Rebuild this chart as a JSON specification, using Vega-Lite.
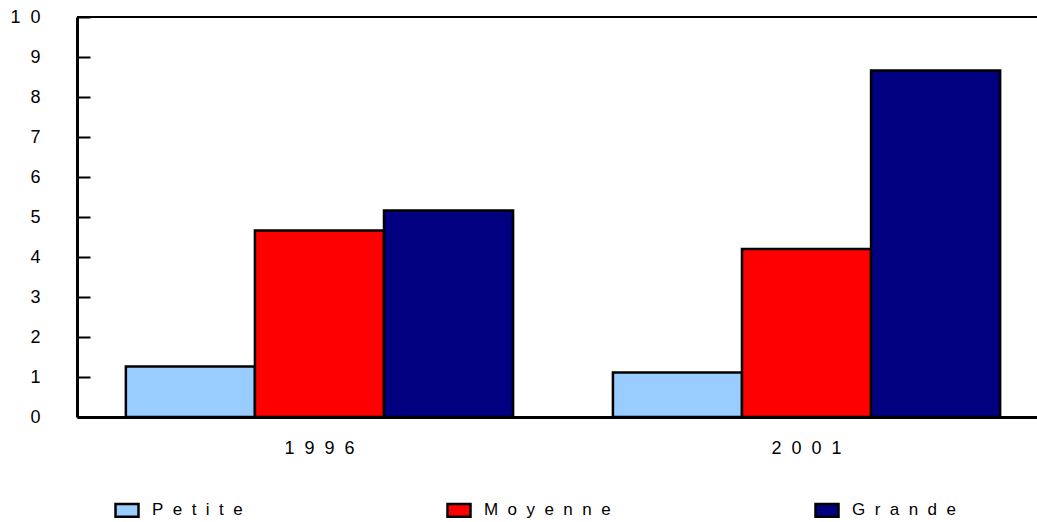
{
  "$schema": "https://vega.github.io/schema/vega-lite/v6.json",
  "autosize": "none",
  "width": 960,
  "height": 400,
  "padding": {"left": 77, "top": 17, "right": 0, "bottom": 105},
  "background": "white",
  "config": {
    "view": {"stroke": null},
    "font": "Liberation Sans",
    "axis": {"labelFont": "Liberation Sans", "labelColor": "black", "labelFontSize": 18, "grid": false, "title": null},
    "axisY": {
      "values": [0, 1, 2, 3, 4, 5, 6, 7, 8, 9, 10],
      "labelOverlap": false,
      "domainColor": "black", "domainWidth": 3,
      "tickColor": "black", "tickWidth": 2, "tickSize": -13,
      "labelPadding": 50,
      "labelExpr": "join(split(datum.label, ''), '\u00a0\u00a0')"
    }
  },
  "data": {
    "values": [
      {"annee": "1996", "taille": "Petite", "valeur": 1.26},
      {"annee": "1996", "taille": "Moyenne", "valeur": 4.66},
      {"annee": "1996", "taille": "Grande", "valeur": 5.16},
      {"annee": "2001", "taille": "Petite", "valeur": 1.11},
      {"annee": "2001", "taille": "Moyenne", "valeur": 4.2},
      {"annee": "2001", "taille": "Grande", "valeur": 8.66}
    ]
  },
  "layer": [
    {
      "mark": {"type": "bar", "stroke": "black", "strokeWidth": 2.5},
      "encoding": {
        "x": {
          "field": "annee", "type": "nominal",
          "scale": {"paddingInner": 0.205, "paddingOuter": 0.088, "align": 0.57},
          "axis": {
            "domainColor": "black", "domainWidth": 3, "ticks": false,
            "labelAngle": 0, "labelPadding": 22, "labelFontSize": 18,
            "labelExpr": "join(split(datum.label, ''), '\u00a0\u00a0')"
          }
        },
        "xOffset": {
          "field": "taille", "type": "nominal",
          "sort": ["Petite", "Moyenne", "Grande"],
          "scale": {"paddingInner": 0, "paddingOuter": 0}
        },
        "y": {
          "field": "valeur", "type": "quantitative",
          "scale": {"domain": [0, 10], "nice": false},
          "axis": {"values": [0, 1, 2, 3, 4, 5, 6, 7, 8, 9, 10], "labelOverlap": false}
        },
        "color": {
          "field": "taille", "type": "nominal",
          "sort": ["Petite", "Moyenne", "Grande"],
          "scale": {"domain": ["Petite", "Moyenne", "Grande"], "range": ["#99CCFF", "#FF0000", "#000080"]},
          "legend": {
            "title": null, "orient": "none", "direction": "horizontal",
            "legendX": 37, "legendY": 480,
            "symbolType": "M-1,-0.55H1V0.55H-1Z", "symbolSize": 529,
            "symbolStrokeColor": "black", "symbolStrokeWidth": 2.5,
            "labelFontSize": 17, "labelFont": "Liberation Sans", "labelColor": "black",
            "labelOffset": 12, "columnPadding": 199, "labelLimit": 300,
            "labelExpr": "join(split(datum.label, ''), '\u00a0\u00a0')"
          }
        }
      }
    },
    {
      "mark": {"type": "rule", "color": "black", "strokeWidth": 2},
      "encoding": {
        "y": {
          "datum": 10, "type": "quantitative",
          "axis": {"values": [0, 1, 2, 3, 4, 5, 6, 7, 8, 9, 10], "labelOverlap": false}
        }
      }
    }
  ]
}
